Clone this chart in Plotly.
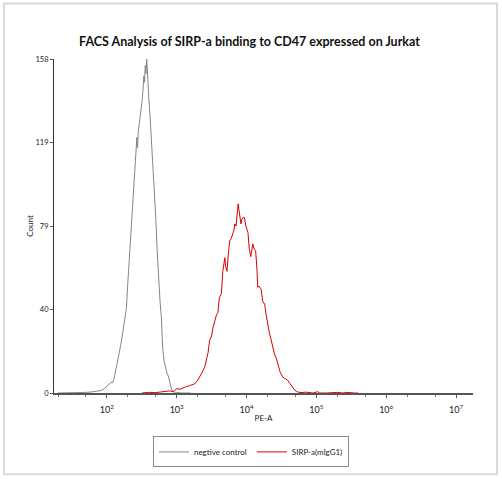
import plotly.graph_objects as go

# PE-A channel positions as log10 exponents, with counts
neg_exp = [1.30, 1.40, 1.50, 1.55, 1.62, 1.70, 1.76, 1.80, 1.84, 1.88, 1.92, 1.96,
           2.00, 2.03, 2.06, 2.08, 2.10, 2.12, 2.14, 2.16, 2.18, 2.20, 2.22, 2.24,
           2.26, 2.28, 2.30, 2.32, 2.34, 2.36, 2.38, 2.40, 2.42, 2.43, 2.44, 2.45,
           2.47, 2.49, 2.50, 2.51, 2.52, 2.53, 2.54, 2.55, 2.56, 2.57, 2.58, 2.59,
           2.60, 2.62, 2.64, 2.66, 2.67, 2.70, 2.72, 2.74, 2.76, 2.78, 2.80, 2.82,
           2.84, 2.86, 2.88, 2.90, 2.92, 2.94, 2.96, 2.98, 3.02, 3.06, 3.20]
neg_count = [0, 0, 0.3, 0, 0.2, 0.3, 0.4, 0.6, 0.5, 0.9, 1.2, 2.0,
             3.2, 4.5, 5.0, 4.8, 6.5, 9.5, 12.5, 16, 20, 23, 27, 31,
             35, 40, 52, 63, 74, 84, 95, 106, 118, 121, 116, 124,
             129, 133, 137, 140, 146, 150, 147, 155, 151, 158, 153, 145,
             140, 130, 119, 110, 104, 83, 68, 54, 44, 36, 21, 15,
             12, 9.5, 8, 5, 2.5, 1.0, 0.3, 0, 0.2, 0, 0]

pos_exp = [2.50, 2.60, 2.70, 2.80, 2.85, 2.90, 2.95, 3.00, 3.05, 3.10, 3.14, 3.18,
           3.22, 3.26, 3.30, 3.33, 3.36, 3.40, 3.43, 3.45, 3.47, 3.50, 3.52, 3.54,
           3.57, 3.59, 3.61, 3.64, 3.66, 3.68, 3.69, 3.70, 3.72, 3.74, 3.76, 3.78,
           3.80, 3.82, 3.83, 3.85, 3.87, 3.88, 3.89, 3.90, 3.92, 3.93, 3.95, 3.97,
           3.99, 4.02, 4.04, 4.06, 4.08, 4.09, 4.11, 4.13, 4.15, 4.16, 4.18, 4.21,
           4.23, 4.26, 4.28, 4.30, 4.33, 4.35, 4.38, 4.40, 4.43, 4.45, 4.48, 4.52,
           4.55, 4.59, 4.62, 4.64, 4.67, 4.69, 4.73, 4.78, 4.85, 4.95, 5.02, 5.05,
           5.15, 5.30, 5.38, 5.42, 5.55, 5.60]
pos_count = [0, 0.3, 0.2, 0.5, 0.8, 1.0, 0.6, 2.0, 1.8, 2.6, 3.1, 3.4,
             3.8, 4.4, 6.0, 7.5, 9.5, 12.2, 16, 19.2, 24.7, 27, 31, 34,
             37, 38, 45, 47, 57.5, 62, 64, 60, 57.5, 66, 72, 73,
             74.7, 77, 80, 79, 86, 89.5, 87, 84, 80, 82, 83, 83,
             79, 76, 68, 64.5, 70, 70.5, 68, 67.5, 58, 50, 50.5, 49,
             43.5, 42, 37, 32.5, 28, 25.5, 21, 18.4, 16, 13.7, 10, 7.5,
             7, 6, 4.5, 3.6, 2.2, 1.3, 0.5, 0.2, 0.4, 0, 0.6, 0,
             0, 0.3, 0, 0.3, 0, 0]

series_names = ["negtive control", "SIRP-a(mlgG1)"]
series_colors = ["#858585", "#d80000"]

y_tick_vals = [0, 39.5, 79, 118.5, 158]
y_tick_text = ["0", "40", "79", "119", "158"]
x_tick_exps = [2, 3, 4, 5, 6, 7]

FONT = "Lato, Open Sans, Arial, sans-serif"

fig = go.Figure()
fig.add_trace(go.Scatter(x=[10 ** e for e in neg_exp], y=neg_count, mode="lines",
                         name=series_names[0], line=dict(color=series_colors[0], width=1)))
fig.add_trace(go.Scatter(x=[10 ** e for e in pos_exp], y=pos_count, mode="lines",
                         name=series_names[1], line=dict(color=series_colors[1], width=1)))

fig.update_layout(
    width=502, height=479,
    margin=dict(l=54, r=29, t=59, b=83),
    paper_bgcolor="white", plot_bgcolor="white",
    font=dict(family=FONT, size=8, color="#222"),
    title=dict(text="<b>FACS Analysis of SIRP-a binding to CD47 expressed on Jurkat</b>",
               x=0.497, xanchor="center", y=1 - 42 / 479, yanchor="middle",
               yref="container", font=dict(family=FONT, size=12.5, color="#111")),
    showlegend=True,
    legend=dict(orientation="h", x=0.47, xanchor="center", y=-0.13, yanchor="top",
                bordercolor="#888", borderwidth=1, font=dict(size=8, color="#222"),
                itemwidth=30, tracegroupgap=0),
)
fig.update_xaxes(
    type="log", range=[1.243, 7.243],
    tickvals=[10 ** e for e in x_tick_exps],
    ticktext=["10<sup>%d</sup>" % e for e in x_tick_exps],
    ticks="outside", ticklen=3, tickcolor="#555",
    minor=dict(ticks="outside", ticklen=2, tickcolor="#777", showgrid=False),
    showline=True, linecolor="#555", linewidth=1.5,
    showgrid=False, zeroline=False,
    title=dict(text="PE-A", font=dict(size=8), standoff=2),
    tickfont=dict(size=9), ticklabelstandoff=4,
)
fig.update_yaxes(
    range=[0, 158], tickvals=y_tick_vals, ticktext=y_tick_text,
    ticks="outside", ticklen=3, tickcolor="#555",
    showline=True, linecolor="#333", linewidth=1,
    showgrid=False, zeroline=False,
    title=dict(text="Count", font=dict(size=8), standoff=0),
    tickfont=dict(size=7.5),
)
# light outer frame of the original picture
fig.add_shape(type="rect", xref="paper", yref="paper",
              x0=(4 - 54) / 419, x1=(497 - 54) / 419,
              y0=(396 - 478) / 337, y1=(396 - 3) / 337,
              line=dict(color="#d9d9d9", width=2), fillcolor="rgba(0,0,0,0)", layer="below")

fig.write_html("out.html", config={"displayModeBar": False},
               post_script="document.body.style.margin='0px';")
